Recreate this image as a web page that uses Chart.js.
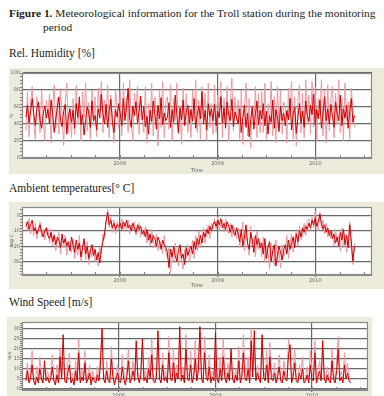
<!DOCTYPE html>
<html><head><meta charset="utf-8">
<script src="https://cdn.jsdelivr.net/npm/chart.js@4"></script>
<style>
body{margin:0;width:384px;height:396px;background:#fff;position:relative;overflow:hidden;font-family:"Liberation Serif",serif;}
.t{position:absolute;white-space:nowrap;color:#222;line-height:1;}
canvas{position:absolute;background:#ecebdc;}
</style></head><body>
<div class="t" style="left:9px;top:8px;font-size:11.4px"><b>Figure 1.</b> Meteorological information for the Troll station during the monitoring</div>
<div class="t" style="left:43px;top:22px;font-size:11.4px">period</div>
<div class="t" style="left:9px;top:48px;font-size:11.5px">Rel. Humidity [%]</div>
<canvas id="c1" width="375" height="106" style="left:9px;top:68px"></canvas>
<div class="t" style="left:9px;top:183px;font-size:11.5px">Ambient temperatures[° C]</div>
<canvas id="c2" width="375" height="87" style="left:9px;top:202px"></canvas>
<div class="t" style="left:9px;top:297px;font-size:11.5px">Wind Speed [m/s]</div>
<canvas id="c3" width="365" height="79" style="left:7px;top:317px"></canvas>
<script>
const T0 = 2007.04, STEP = 0.01608;
const X_MIN = 2007.0, X_MAX = 2010.58;
const YEAR_TICKS = [2008, 2009, 2010];
const HUM_TICKS = [0, 20, 40, 60, 80, 100];
const TEMP_TICKS = [-30, -20, -10, 0];
const WIND_TICKS = [0, 5, 10, 15, 20, 25, 30];

const humDark = [48,62,41,55,70,52,38,58,66,44,35,52,61,47,57, 40,68,53,30,46,59,72,44,37,55,63,28,49,58,42,
 56,35,64,48,72,39,51,27,45,60,53,36,67,44,50, 33,58,47,75,52,40,63,36,55,69,42,30,57,48,64,
 52,38,70,44,59,82,47,36,61,50,66,41,55,73,45, 60,37,49,28,56,43,67,52,34,62,46,71,39,53,44,
 48,65,36,57,42,74,51,30,59,45,68,38,54,62,41, 57,43,70,35,52,61,46,78,40,56,33,64,49,58,44,
 63,38,55,47,72,41,59,35,66,50,44,69,37,54,48, 40,58,30,47,62,36,53,25,45,60,34,52,67,39,56,
 46,64,38,55,28,50,42,68,35,57,48,31,61,44,53, 38,56,45,70,33,52,60,29,47,64,41,55,36,67,50,
 43,62,51,75,39,57,46,68,35,53,72,44,58,40,63, 49,36,66,52,44,74,38,58,47,62,35,55,70,42,50];
const humLight = [32,78,25,66,84,40,22,72,58,30,80,45,20,68,52, 75,18,60,86,35,70,28,82,50,15,66,88,30,58,24,
 70,28,85,40,62,20,78,48,88,32,65,22,80,38,72, 25,82,55,90,30,68,44,86,24,74,52,18,80,62,35,
 78,26,88,50,72,30,92,42,20,76,58,84,28,68,45, 30,84,18,64,40,88,26,72,52,14,80,36,90,24,66,
 72,34,86,20,70,44,88,28,62,16,82,40,76,30,58, 24,80,46,92,30,68,22,84,50,76,20,88,36,64,28,
 86,30,74,52,90,24,70,38,84,20,62,94,32,72,44, 68,22,80,16,58,88,26,70,12,62,40,84,24,76,30,
 78,30,88,22,64,42,90,26,72,18,84,36,80,28,66, 60,18,82,48,90,22,72,14,66,86,30,76,24,92,40,
 74,28,90,36,84,20,70,50,92,26,80,18,86,32,70, 84,24,76,40,92,30,70,20,88,44,66,22,82,58,36];

const tempDark = [-7,-4,-9,-6,-3,-10,-8,-12,-9,-6,-11,-14,-10,-8,-13, -15,-11,-17,-13,-19,-14,-16,-21,-12,-18,-15,-20,-17,-23,-14,
 -19,-24,-16,-22,-18,-27,-21,-15,-25,-20,-28,-23,-19,-26,-22, -29,-24,-31,-22,-17,-12,-4,2,-6,-3,-8,-5,-9,-6,-7,
 -5,-9,-4,-7,-3,-8,-6,-10,-5,-8,-11,-6,-9,-7,-12, -10,-14,-9,-16,-12,-18,-13,-15,-20,-14,-17,-22,-16,-19,-21,
 -24,-34,-22,-27,-20,-26,-30,-23,-19,-28,-25,-32,-21,-26,-23, -20,-25,-17,-22,-15,-19,-13,-18,-11,-14,-9,-12,-7,-10,-6,
 -4,-7,-3,-6,-2,-8,-5,-9,-4,-7,-11,-6,-10,-13,-8, -12,-17,-9,-20,-14,-6,-18,-22,-11,-16,-24,-13,-19,-15,-21,
 -18,-25,-15,-28,-21,-17,-30,-23,-19,-33,-26,-20,-24,-29,-22, -19,-25,-16,-22,-18,-14,-21,-12,-17,-10,-14,-8,-11,-7,-9,
 -5,-8,-3,-6,-2,-7,-4,1,-5,-9,-6,-11,-8,-13,-10, -15,-12,-18,-14,-20,-11,-16,-9,-19,-13,-21,-6,-17,-30,-20];
const tempLight = [-4,-10,-2,-12,-7,-13,-5,-15,-10,-4,-14,-9,-16,-11,-8, -18,-9,-20,-12,-23,-16,-11,-25,-15,-21,-13,-26,-18,-20,-24,
 -15,-28,-20,-26,-13,-30,-24,-18,-29,-17,-32,-22,-27,-19,-30, -26,-33,-21,-25,-12,-15,-3,4,-8,-1,-11,-3,-12,-4,-9,
 -8,-2,-11,-5,-9,-3,-12,-6,-9,-4,-13,-8,-5,-14,-9, -13,-7,-18,-11,-20,-9,-17,-21,-12,-23,-16,-19,-25,-13,-24,
 -28,-21,-37,-24,-31,-18,-27,-33,-20,-29,-35,-22,-28,-19,-30, -24,-16,-28,-13,-23,-10,-21,-16,-8,-18,-12,-6,-15,-5,-9,
 -2,-9,-1,-10,-5,-3,-11,-2,-8,-12,-5,-14,-7,-9,-15, -8,-21,-13,-4,-23,-10,-19,-26,-7,-20,-14,-27,-10,-22,-17,
 -27,-14,-31,-20,-24,-35,-18,-26,-32,-16,-29,-23,-34,-19,-27, -23,-13,-28,-18,-12,-24,-15,-9,-20,-7,-16,-12,-5,-13,-4,
 -2,-10,-1,-8,3,-4,-10,2,-8,-3,-12,-5,-14,-9,-15, -11,-20,-9,-17,-13,-23,-8,-21,-12,-24,-16,-4,-22,-32,-18];

const windDark = [4,9,3,5,12,4,2,6,3,10,5,3,14,4,6, 3,5,11,4,2,7,3,16,5,27,4,3,8,12,3,
 5,2,9,4,18,3,6,4,13,3,5,8,2,6,4, 3,7,4,12,30,5,3,9,4,3,15,6,2,5,8,
 4,3,11,5,2,6,14,3,5,9,4,24,6,3,7, 25,4,6,3,10,5,17,4,3,6,29,5,3,12,4,
 6,3,18,5,4,13,3,8,5,31,4,7,3,20,5, 4,12,3,6,15,4,9,31,5,3,18,6,4,11,3,
 6,4,28,5,3,10,4,16,6,3,8,4,20,5,3, 7,4,14,3,6,18,5,4,10,3,24,6,29,4,8,
 5,3,27,6,4,12,3,16,5,4,8,3,6,11,4, 3,9,5,4,17,22,3,6,13,4,3,8,5,10,3,
 4,7,3,12,5,4,18,3,6,9,4,24,5,3,7, 4,3,14,5,3,9,20,4,6,3,12,5,8,4,3];
const windLight = [6,13,4,8,19,5,3,11,5,16,7,4,10,6,9, 5,8,17,6,3,12,5,20,7,14,6,4,13,18,4,
 8,3,14,6,25,4,10,5,19,4,7,12,3,9,6, 4,11,6,19,24,8,4,14,6,4,21,9,3,7,12,
 6,4,17,8,3,10,20,4,8,14,6,19,9,4,11, 22,6,10,4,16,7,25,6,4,9,23,8,4,18,6,
 9,4,26,7,6,20,4,12,7,25,6,11,4,27,8, 6,19,4,9,24,6,14,28,8,4,26,9,6,17,4,
 9,6,22,8,4,16,6,25,9,4,13,6,18,8,4, 10,6,21,4,9,27,7,6,16,4,30,9,22,6,12,
 7,4,24,9,6,19,4,23,8,6,13,4,9,17,6, 4,14,8,6,25,18,4,9,20,6,4,12,8,16,4,
 6,11,4,19,8,6,24,4,9,14,6,21,8,4,11, 6,4,20,8,4,14,26,6,9,4,18,8,13,6,4];

const pts = arr => arr.map((v, i) => ({x: T0 + i * STEP, y: v}));

const frame = {
  id: 'frame',
  beforeDraw(c) {
    const a = c.chartArea, ctx = c.ctx;
    ctx.save(); ctx.fillStyle = '#fff';
    ctx.fillRect(a.left, a.top, a.right - a.left, a.bottom - a.top);
    ctx.restore();
  },
  afterDraw(c, args, o) {
    const a = c.chartArea, ctx = c.ctx, xs = c.scales.x, ys = c.scales.y;
    ctx.save();
    ctx.strokeStyle = '#808080'; ctx.lineWidth = 1;
    ctx.beginPath();
    const nx = Math.round((xs.max - xs.min) / 0.25);
    for (let k = 1; k <= nx; k++) {
      const px = Math.round(xs.getPixelForValue(X_MIN + k * 0.25)) + 0.5;
      ctx.moveTo(px, a.bottom); ctx.lineTo(px, a.bottom - 3);
    }
    const start = Math.ceil(ys.min / o.ys);
    const end = Math.floor(ys.max / o.ys);
    for (let k = start; k <= end; k++) {
      const py = Math.round(ys.getPixelForValue(k * o.ys)) + 0.5;
      ctx.moveTo(a.left - 2, py); ctx.lineTo(a.left + 1, py);
    }
    ctx.stroke();
    ctx.strokeStyle = '#8a8a8a'; ctx.lineWidth = 1.2;
    ctx.strokeRect(a.left + 0.5, a.top + 0.5, a.right - a.left - 1, a.bottom - a.top - 1);
    ctx.restore();
  }
};

function make(id, dark, light, ymin, ymax, yticks, ytitle, ystep, yw, xh, pad, showX) {
  return new Chart(document.getElementById(id), {
    type: 'line',
    data: { datasets: [
      { data: pts(dark), borderColor: '#cc0000', borderWidth: 1, pointRadius: 0, order: 0 },
      { data: pts(light), borderColor: '#eb99a2', borderWidth: 1, pointRadius: 0, order: 1 }
    ]},
    options: {
      responsive: false, animation: false,
      layout: { padding: pad },
      plugins: { legend: { display: false }, tooltip: { enabled: false }, frame: { ys: ystep } },
      scales: {
        x: {
          type: 'linear', min: X_MIN, max: X_MAX,
          afterBuildTicks: s => { s.ticks = YEAR_TICKS.map(v => ({ value: v })); },
          afterFit: s => { s.height = xh; },
          ticks: { font: { size: 5, family: 'DejaVu Sans' }, color: '#666', padding: 1, maxRotation: 0, autoSkip: false, callback: v => String(v) },
          grid: { color: '#6a6a6a', lineWidth: 1.2, tickLength: 2 },
          border: { color: '#888' },
          title: { display: showX, text: 'Time', font: { size: 5, family: 'DejaVu Sans' }, color: '#555', padding: 0 }
        },
        y: {
          min: ymin, max: ymax,
          afterBuildTicks: s => { s.ticks = yticks.map(v => ({ value: v })); },
          afterFit: s => { s.width = yw; },
          ticks: { font: { size: 5, family: 'DejaVu Sans' }, color: '#666', padding: 2, callback: v => String(v) },
          grid: { color: '#6a6a6a', lineWidth: 1.2, drawTicks: false },
          border: { color: '#888' },
          title: { display: true, text: ytitle, font: { size: 4.5, family: 'DejaVu Sans' }, color: '#555', padding: 0 }
        }
      }
    },
    plugins: [frame]
  });
}

make('c1', humDark, humLight, 0, 100, HUM_TICKS, '%', 4, 13, 16, { top: 2, right: 12, left: 0, bottom: 0 }, true);
make('c2', tempDark, tempLight, -38.8, 5.6, TEMP_TICKS, 'deg C', 2, 13, 14, { top: 2, right: 12, left: 0, bottom: 0 }, true);
make('c3', windDark, windLight, -0.5, 33.3, WIND_TICKS, 'm/s', 1, 15, 6, { top: 2, right: 4, left: 0, bottom: 0 }, false);
</script>
</body></html>
